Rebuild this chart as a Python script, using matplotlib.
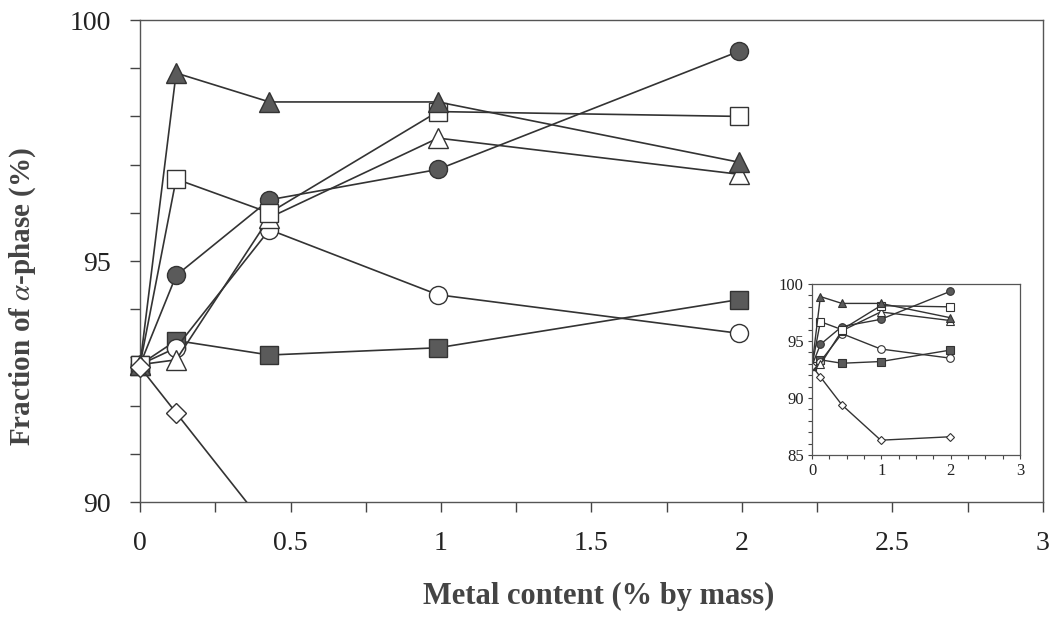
import matplotlib
matplotlib.use("Agg")
import matplotlib.pyplot as plt
import numpy as np
from matplotlib.ticker import MultipleLocator

plt.rcParams['font.family'] = ['Liberation Serif', 'DejaVu Serif']
plt.rcParams['mathtext.fontset'] = 'stix'

# Data (x: metal content % by mass, y: fraction of alpha-phase %)
x = [0, 0.12, 0.43, 0.99, 1.99]
filled_triangle = [92.85, 98.9, 98.3, 98.3, 97.05]
open_square = [92.85, 96.7, 96.0, 98.1, 98.0]
filled_circle = [92.85, 94.7, 96.27, 96.9, 99.35]
open_circle = [92.85, 93.2, 95.65, 94.3, 93.5]
filled_square = [92.85, 93.35, 93.05, 93.2, 94.2]
open_triangle = [92.85, 92.95, 95.9, 97.55, 96.8]
open_diamond = [92.8, 91.85, 89.4, 86.3, 86.6]

xlabel = "Metal content (% by mass)"
ylabel = r"Fraction of $\alpha$-phase (%)"
main_xticks = [0, 0.5, 1, 1.5, 2, 2.5, 3]
main_xticklabels = ["0", "0.5", "1", "1.5", "2", "2.5", "3"]
main_yticks = [90, 95, 100]
inset_xticks = [0, 1, 2, 3]
inset_yticks = [85, 90, 95, 100]

dark = '#5a5a5a'
line_c = '#333333'

series = [
    (filled_square, 's', dark, 1.0),
    (open_circle, 'o', 'white', 1.0),
    (filled_circle, 'o', dark, 1.0),
    (open_triangle, '^', 'white', 1.1),
    (open_square, 's', 'white', 1.0),
    (filled_triangle, '^', dark, 1.1),
    (open_diamond, 'D', 'white', 0.8),
]

fig = plt.figure(figsize=(10.56, 6.37), dpi=100)
ax = fig.add_axes([0.1326, 0.2119, 0.855, 0.7567])
ax.set_xlim(0, 3)
ax.set_ylim(90, 100)

z = 3
for ys, m, fc, sc in series:
    ax.plot(x, ys, color=line_c, lw=1.2, zorder=z, clip_on=True)
    ym = np.ma.masked_less(np.array(ys, dtype=float), 90)
    ax.plot(x, ym, linestyle='none', marker=m, markersize=13 * sc,
            markerfacecolor=fc, markeredgecolor=line_c, markeredgewidth=1.0,
            clip_on=False, zorder=z + 0.5)
    z += 1

ax.set_xticks(main_xticks)
ax.set_xticklabels(main_xticklabels)
ax.set_yticks(main_yticks)
ax.xaxis.set_minor_locator(MultipleLocator(0.25))
ax.yaxis.set_minor_locator(MultipleLocator(1))
ax.tick_params(which='both', direction='out', length=7, width=1.0, color='#444444',
               labelsize=20, pad=14, labelcolor='#222222')
for s in ax.spines.values():
    s.set_color('#555555')
    s.set_linewidth(1.0)
ax.set_xlabel(xlabel, fontsize=22, fontweight='bold', color='#444444')
ax.set_ylabel(ylabel, fontsize=21, fontweight='bold', color='#444444')
ax.xaxis.set_label_coords(0.508, -0.166)
ax.yaxis.set_label_coords(-0.113, 0.427)

# Inset
axi = fig.add_axes([0.769, 0.2857, 0.197, 0.2684])
for ys, m, fc, sc in series:
    axi.plot(x, ys, color=line_c, lw=1.0, marker=m, markersize=5.5 * sc,
             markerfacecolor=fc, markeredgecolor=line_c, markeredgewidth=0.8)
axi.set_xlim(0, 3)
axi.set_ylim(85, 100)
axi.set_xticks(inset_xticks)
axi.set_yticks(inset_yticks)
axi.xaxis.set_minor_locator(MultipleLocator(0.25))
axi.yaxis.set_minor_locator(MultipleLocator(1))
axi.tick_params(which='both', direction='out', length=3, width=0.8, color='#444444',
                labelsize=12, pad=3, labelcolor='#222222')
for s in axi.spines.values():
    s.set_color('#555555')
    s.set_linewidth(0.9)

fig.savefig("out.png", dpi=100)
